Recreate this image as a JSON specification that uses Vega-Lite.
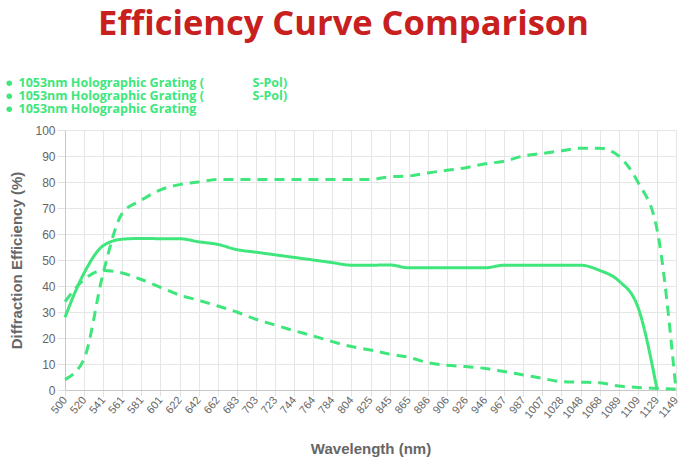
{
  "$schema": "https://vega.github.io/schema/vega-lite/v6.json",
  "autosize": "none",
  "width": 611,
  "height": 260,
  "padding": {"left": 65, "top": 130, "right": 9, "bottom": 74},
  "background": "white",
  "title": {
    "text": "Efficiency Curve Comparison",
    "font": "Open Sans",
    "fontSize": 34.5,
    "fontWeight": 700,
    "color": "#c8201e",
    "anchor": "middle",
    "dx": -27,
    "offset": 35
  },
  "config": {
    "view": {"stroke": null},
    "axis": {
      "gridColor": "#e6e6e6",
      "domainColor": "#c8c8c8",
      "tickColor": "#e0e0e0",
      "labelColor": "#666666",
      "labelFont": "Liberation Sans",
      "titleFont": "Liberation Sans",
      "titleColor": "#666666",
      "titleFontWeight": "bold",
      "titleFontSize": 15
    }
  },
  "data": {
    "values": [
      {"wl": 500, "series": "a", "eff": 4}, {"wl": 520, "series": "a", "eff": 12}, {"wl": 541, "series": "a", "eff": 45}, {"wl": 561, "series": "a", "eff": 68}, {"wl": 581, "series": "a", "eff": 73}, {"wl": 601, "series": "a", "eff": 77}, {"wl": 622, "series": "a", "eff": 79}, {"wl": 642, "series": "a", "eff": 80}, {"wl": 662, "series": "a", "eff": 81}, {"wl": 683, "series": "a", "eff": 81}, {"wl": 703, "series": "a", "eff": 81}, {"wl": 723, "series": "a", "eff": 81}, {"wl": 744, "series": "a", "eff": 81}, {"wl": 764, "series": "a", "eff": 81}, {"wl": 784, "series": "a", "eff": 81}, {"wl": 804, "series": "a", "eff": 81}, {"wl": 825, "series": "a", "eff": 81}, {"wl": 845, "series": "a", "eff": 82}, {"wl": 865, "series": "a", "eff": 82.3}, {"wl": 886, "series": "a", "eff": 83.5}, {"wl": 906, "series": "a", "eff": 84.5}, {"wl": 926, "series": "a", "eff": 85.5}, {"wl": 946, "series": "a", "eff": 87}, {"wl": 967, "series": "a", "eff": 88}, {"wl": 987, "series": "a", "eff": 90}, {"wl": 1007, "series": "a", "eff": 91}, {"wl": 1028, "series": "a", "eff": 92}, {"wl": 1048, "series": "a", "eff": 93}, {"wl": 1068, "series": "a", "eff": 93}, {"wl": 1089, "series": "a", "eff": 90}, {"wl": 1109, "series": "a", "eff": 80}, {"wl": 1129, "series": "a", "eff": 62}, {"wl": 1149, "series": "a", "eff": 0},
      {"wl": 500, "series": "b", "eff": 34}, {"wl": 520, "series": "b", "eff": 42.5}, {"wl": 541, "series": "b", "eff": 46}, {"wl": 561, "series": "b", "eff": 45}, {"wl": 581, "series": "b", "eff": 42.5}, {"wl": 601, "series": "b", "eff": 39.5}, {"wl": 622, "series": "b", "eff": 36.5}, {"wl": 642, "series": "b", "eff": 34.5}, {"wl": 662, "series": "b", "eff": 32.3}, {"wl": 683, "series": "b", "eff": 30}, {"wl": 703, "series": "b", "eff": 27.2}, {"wl": 723, "series": "b", "eff": 25}, {"wl": 744, "series": "b", "eff": 22.8}, {"wl": 764, "series": "b", "eff": 20.8}, {"wl": 784, "series": "b", "eff": 18.6}, {"wl": 804, "series": "b", "eff": 16.7}, {"wl": 825, "series": "b", "eff": 15.4}, {"wl": 845, "series": "b", "eff": 13.8}, {"wl": 865, "series": "b", "eff": 12.6}, {"wl": 886, "series": "b", "eff": 10.5}, {"wl": 906, "series": "b", "eff": 9.5}, {"wl": 926, "series": "b", "eff": 9}, {"wl": 946, "series": "b", "eff": 8.3}, {"wl": 967, "series": "b", "eff": 7.1}, {"wl": 987, "series": "b", "eff": 5.8}, {"wl": 1007, "series": "b", "eff": 4.5}, {"wl": 1028, "series": "b", "eff": 3.2}, {"wl": 1048, "series": "b", "eff": 3}, {"wl": 1068, "series": "b", "eff": 2.8}, {"wl": 1089, "series": "b", "eff": 1.5}, {"wl": 1109, "series": "b", "eff": 1}, {"wl": 1129, "series": "b", "eff": 0.6}, {"wl": 1149, "series": "b", "eff": 0.3},
      {"wl": 500, "series": "c", "eff": 28}, {"wl": 520, "series": "c", "eff": 45}, {"wl": 541, "series": "c", "eff": 55.5}, {"wl": 561, "series": "c", "eff": 58}, {"wl": 581, "series": "c", "eff": 58.3}, {"wl": 601, "series": "c", "eff": 58.2}, {"wl": 622, "series": "c", "eff": 58.2}, {"wl": 642, "series": "c", "eff": 57}, {"wl": 662, "series": "c", "eff": 56}, {"wl": 683, "series": "c", "eff": 54}, {"wl": 703, "series": "c", "eff": 53}, {"wl": 723, "series": "c", "eff": 52}, {"wl": 744, "series": "c", "eff": 51}, {"wl": 764, "series": "c", "eff": 50}, {"wl": 784, "series": "c", "eff": 49}, {"wl": 804, "series": "c", "eff": 48}, {"wl": 825, "series": "c", "eff": 48}, {"wl": 845, "series": "c", "eff": 48.1}, {"wl": 865, "series": "c", "eff": 47}, {"wl": 886, "series": "c", "eff": 47}, {"wl": 906, "series": "c", "eff": 47}, {"wl": 926, "series": "c", "eff": 47}, {"wl": 946, "series": "c", "eff": 47}, {"wl": 967, "series": "c", "eff": 48}, {"wl": 987, "series": "c", "eff": 48}, {"wl": 1007, "series": "c", "eff": 48}, {"wl": 1028, "series": "c", "eff": 48}, {"wl": 1048, "series": "c", "eff": 48}, {"wl": 1068, "series": "c", "eff": 46}, {"wl": 1089, "series": "c", "eff": 42}, {"wl": 1109, "series": "c", "eff": 32}, {"wl": 1129, "series": "c", "eff": 0.5}
    ]
  },
  "mark": {"type": "line", "strokeWidth": 3, "interpolate": "monotone"},
  "encoding": {
    "x": {
      "field": "wl",
      "type": "ordinal",
      "scale": {"type": "point", "padding": 0},
      "axis": {
        "title": "Wavelength (nm)",
        "labelAngle": -50,
        "labelFontSize": 11,
        "tickSize": 6,
        "titlePadding": 22,
        "grid": true
      }
    },
    "y": {
      "field": "eff",
      "type": "quantitative",
      "scale": {"domain": [0, 100]},
      "axis": {
        "title": "Diffraction Efficiency (%)",
        "values": [0, 10, 20, 30, 40, 50, 60, 70, 80, 90, 100],
        "labelFontSize": 12,
        "tickSize": 8,
        "labelPadding": 2,
        "titlePadding": 10
      }
    },
    "color": {
      "field": "series",
      "type": "nominal",
      "scale": {"domain": ["a", "b", "c"], "range": ["#3ee67b", "#3ee67b", "#3ee67b"]},
      "legend": {
        "title": null,
        "orient": "none",
        "legendX": -62,
        "legendY": -53,
        "direction": "vertical",
        "symbolType": "circle",
        "symbolSize": 30,
        "rowPadding": 0,
        "labelFont": "Open Sans",
        "labelFontWeight": 700,
        "labelFontSize": 12.5,
        "labelColor": "#3ee67b",
        "labelLimit": 400,
        "labelOffset": 3,
        "labelExpr": "datum.value == 'c' ? '1053nm Holographic Grating' : '1053nm Holographic Grating (\u00a0\u00a0\u00a0\u00a0\u00a0\u00a0\u00a0\u00a0\u00a0\u00a0\u00a0\u00a0\u00a0\u00a0 S-Pol)'",
        "encode": {
          "symbols": {"update": {"fill": {"value": "#3ee67b"}, "strokeWidth": {"value": 0}}}
        }
      }
    },
    "strokeDash": {
      "field": "series",
      "type": "nominal",
      "scale": {"domain": ["a", "b", "c"], "range": [[10, 7], [10, 7], [1, 0]]},
      "legend": null
    }
  }
}
